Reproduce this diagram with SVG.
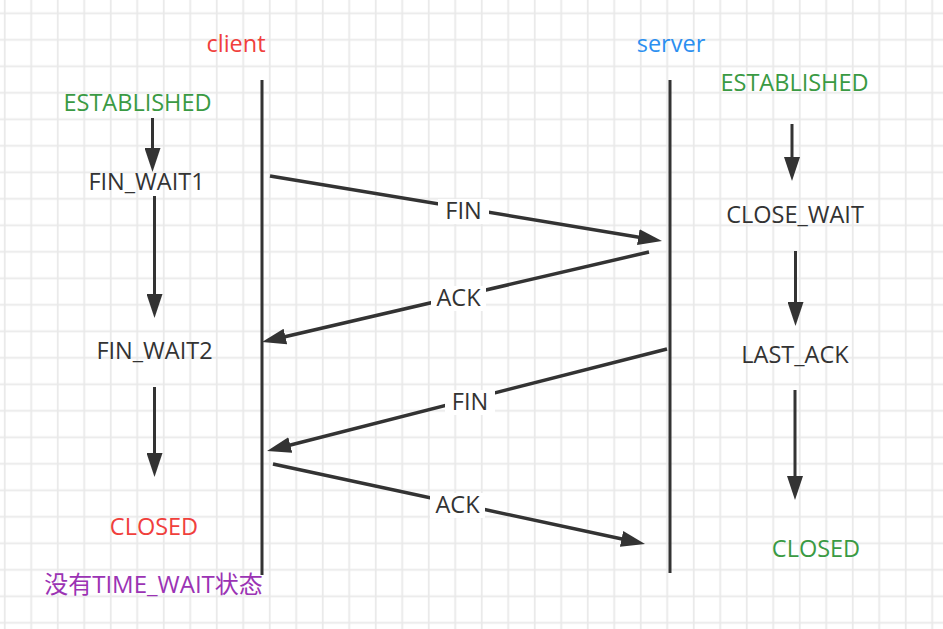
<svg xmlns="http://www.w3.org/2000/svg" width="943" height="629" viewBox="0 0 943 629">
  <defs>
    <pattern id="grid" patternUnits="userSpaceOnUse" x="0" y="0" width="26.5" height="26.5">
      <line x1="4.7" y1="0" x2="4.7" y2="26.5" stroke="#e9e9e9" stroke-width="1.8"/>
      <line x1="0" y1="13.3" x2="26.5" y2="13.3" stroke="#e9e9e9" stroke-width="1.8"/>
    </pattern>
    <marker id="arrow" markerUnits="userSpaceOnUse" markerWidth="24" markerHeight="16" refX="16" refY="8" orient="auto">
      <path d="M0,0 L24,8 L0,16 Z" fill="#333333"/>
    </marker>
  </defs>
  <style>
    text { font-family: "Open Sans", "Noto Sans CJK SC", sans-serif; font-size: 23.5px; text-anchor: middle; }
    .state { fill: #333333; }
    .green { fill: #3a9a43; }
    .red { fill: #f0403c; }
    .blue { fill: #2b8ff0; }
    .purple { fill: #9b33b4; font-size: 24px; }
    .life { stroke: #333333; stroke-width: 3; fill: none; }
    .msg { stroke: #333333; stroke-width: 3.5; fill: none; marker-end: url(#arrow); }
    .step { stroke: #333333; stroke-width: 3; fill: none; marker-end: url(#arrow); }
    .lblbg { fill: #ffffff; }
  </style>
  <rect x="0" y="0" width="943" height="629" fill="#ffffff"/>
  <rect x="0" y="0" width="943" height="629" fill="url(#grid)"/>

  <g id="client">
    <text class="red" x="236" y="51.5">client</text>
    <line class="life" x1="262" y1="80" x2="262" y2="575"/>
  </g>
  <g id="server">
    <text class="blue" x="671" y="51.5">server</text>
    <line class="life" x1="670" y1="80" x2="670" y2="573"/>
  </g>

  <g id="client-established"><text class="green" x="137.5" y="111">ESTABLISHED</text></g>
  <g id="client-fin-wait1"><text class="state" x="146.5" y="190">FIN_WAIT1</text></g>
  <g id="client-fin-wait2"><text class="state" x="154.5" y="358.5">FIN_WAIT2</text></g>
  <g id="client-closed"><text class="red" x="154" y="535">CLOSED</text></g>
  <g id="client-note"><text class="purple" x="153.5" y="593">没有TIME_WAIT状态</text></g>

  <g id="server-established"><text class="green" x="794.5" y="90.5">ESTABLISHED</text></g>
  <g id="server-close-wait"><text class="state" x="795" y="222.5">CLOSE_WAIT</text></g>
  <g id="server-last-ack"><text class="state" x="795" y="362.5">LAST_ACK</text></g>
  <g id="server-closed"><text class="green" x="816" y="556.5">CLOSED</text></g>

  <g id="connectors">
    <line class="step" x1="152.5" y1="118" x2="152.5" y2="164"/>
    <line class="step" x1="154.5" y1="196" x2="154.5" y2="310"/>
    <line class="step" x1="154.5" y1="387" x2="154.5" y2="469"/>
    <line class="step" x1="792" y1="124" x2="792" y2="173"/>
    <line class="step" x1="795.5" y1="251" x2="795.5" y2="318"/>
    <line class="step" x1="795" y1="390" x2="795" y2="492"/>

    <line class="msg" x1="270" y1="176" x2="654.1" y2="239.7"/>
    <line class="msg" x1="649" y1="252" x2="269.8" y2="340.2"/>
    <line class="msg" x1="667" y1="349" x2="274.8" y2="449"/>
    <line class="msg" x1="273" y1="464" x2="637.2" y2="542.3"/>

    <rect class="lblbg" x="438" y="199" width="51" height="25"/>
    <text class="state" x="463.5" y="219">FIN</text>
    <rect class="lblbg" x="431" y="286" width="55" height="25"/>
    <text class="state" x="458.5" y="306">ACK</text>
    <rect class="lblbg" x="445" y="390" width="50" height="25"/>
    <text class="state" x="470" y="410">FIN</text>
    <rect class="lblbg" x="430" y="493" width="55" height="25"/>
    <text class="state" x="457.5" y="513">ACK</text>
  </g>
</svg>
